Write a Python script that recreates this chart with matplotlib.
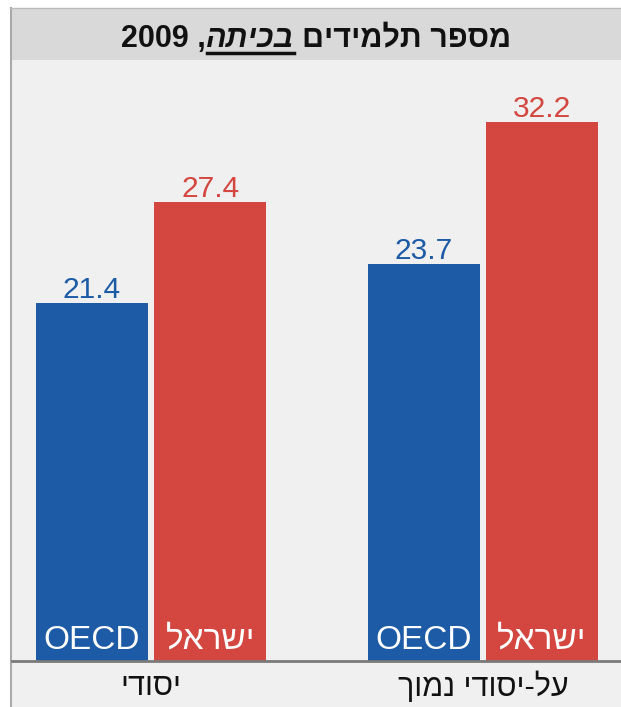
import numpy as np
import matplotlib
matplotlib.use("Agg")
import matplotlib.pyplot as plt
from matplotlib.patches import Rectangle
from matplotlib.lines import Line2D
from matplotlib.transforms import IdentityTransform

plt.rcParams['font.family'] = ['Liberation Sans', 'DejaVu Sans']


def heb(s):
    # matplotlib has no bidi support, so Hebrew is reversed by hand
    return s[::-1]


# data
categories = ["יסודי", "על-יסודי נמוך"]
series_names = ["OECD", "ישראל"]
oecd = [21.4, 23.7]
israel = [27.4, 32.2]
title_main = "מספר תלמידים"
title_emph = "בכיתה"
title_year = "2009"

BLUE = "#1d5ba6"
RED = "#d44640"
BG = "#eff0ef"
TITLE_BG = "#d9d9d9"

W, H = 621, 707
fig = plt.figure(figsize=(W / 100, H / 100), dpi=100)
fig.patch.set_facecolor("white")

# panel background, title bar and borders (behind the axes)
fig.patches.append(Rectangle((10 / W, 0), 611 / W, (H - 8) / H, transform=fig.transFigure,
                             facecolor=BG, edgecolor="none", zorder=-2))
fig.patches.append(Rectangle((10 / W, 1 - 60 / H), 611 / W, 52 / H, transform=fig.transFigure,
                             facecolor=TITLE_BG, edgecolor="none", zorder=-2))
fig.lines.append(Line2D([10.5 / W, 10.5 / W], [0, 1 - 8 / H], transform=fig.transFigure,
                        color="#aaaaaa", lw=1.5, zorder=-1))
fig.lines.append(Line2D([10 / W, 1], [1 - 7.5 / H, 1 - 7.5 / H], transform=fig.transFigure,
                        color="#bbbbbb", lw=1, zorder=-1))

# axes: baseline at y=661 px, top at y=60 px
ax = fig.add_axes([12 / W, (H - 661) / H, 609 / W, 601 / H])
ax.set_zorder(1)
ax.set_axis_off()
ax.patch.set_visible(False)
x0, x1 = -0.419, 1.416
ax.set_xlim(x0, x1)
ax.set_ylim(0, 35.88)

x = np.arange(len(categories))
off, bw = 0.178, 0.337
ax.bar(x - off, oecd, bw, color=BLUE, zorder=2)
ax.bar(x + off, israel, bw, color=RED, zorder=2)

for xi, v in zip(x - off, oecd):
    ax.text(xi, v + 0.3, f"{v:.1f}", ha="center", va="baseline", fontsize=21.5, color=BLUE)
    ax.text(xi, 0.72, series_names[0], ha="center", va="baseline", fontsize=24, color="white", zorder=3)
for xi, v in zip(x + off, israel):
    ax.text(xi, v + 0.3, f"{v:.1f}", ha="center", va="baseline", fontsize=21.5, color=RED)
    ax.text(xi, 0.72, heb(series_names[1]), ha="center", va="baseline", fontsize=24, color="white", zorder=3)

ax.plot([x0, x1], [0, 0], color="#7a7a7a", lw=2, clip_on=False, zorder=4)

for xi, c in zip(x, categories):
    ax.text(xi, -1.58, heb(c), ha="center", va="center", fontsize=22, color="#111111", clip_on=False)

# title, built from pieces so the middle word can be italic + underlined
renderer = fig.canvas.get_renderer()
fs = 22
ty = H - 47
pieces = [
    (title_year + " ,", "normal"),
    (heb(title_emph), "italic"),
    (heb(title_main), "normal"),
]
texts = []
for s, st in pieces:
    t = fig.text(0, ty, s, transform=IdentityTransform(), fontsize=fs, weight="bold",
                 style=st, va="baseline", ha="left", color="#111111")
    texts.append(t)
widths = [t.get_window_extent(renderer).width for t in texts]
gap = 0.278 * fs * 100 / 72
total = sum(widths) + gap
cx = 316
xs = cx - total / 2
pos = [xs, xs + widths[0], xs + widths[0] + widths[1] + gap]
for t, p in zip(texts, pos):
    t.set_x(p)
fig.lines.append(Line2D([pos[1] + 1, pos[1] + widths[1]], [ty - 5.5, ty - 5.5],
                        transform=IdentityTransform(), color="#111111", lw=2.5))

fig.savefig("out.png", dpi=100, facecolor="white")
